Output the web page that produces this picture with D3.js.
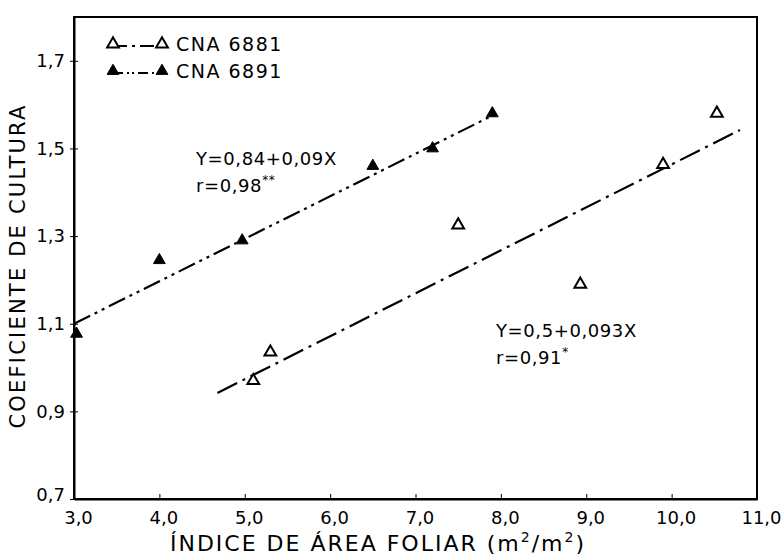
<!DOCTYPE html>
<html><head><meta charset="utf-8">
<script src="https://cdn.jsdelivr.net/npm/d3@7"></script>
<style>body{margin:0;background:#fff}svg{display:block}text{font-family:"DejaVu Sans","Liberation Sans",sans-serif;fill:#000}</style>
</head><body>
<script>
const xTicks = [3,4,5,6,7,8,9,10,11];
const yTicks = [0.7,0.9,1.1,1.3,1.5,1.7];
const seriesNames = ["CNA 6881","CNA 6891"];
const cna6881X = [5.1,5.3,7.5,8.93,9.9,10.53];
const cna6881Y = [0.97,1.035,1.325,1.19,1.463,1.58];
const cna6891X = [3.03,4.0,4.97,6.5,7.2,7.9];
const cna6891Y = [1.077,1.245,1.29,1.46,1.50,1.58];
const fit6881 = [[4.68,0.942],[10.8,1.542]];
const fit6891 = [[3.0,1.10],[7.9,1.575]];
const eq6881 = ["Y=0,5+0,093X","r=0,91"]; const sig6881="*";
const eq6891 = ["Y=0,84+0,09X","r=0,98"]; const sig6891="**";

const W=783,H=557;
const svg=d3.select("body").append("svg").attr("width",W).attr("height",H);
const x=d3.scaleLinear().domain([3,11]).range([74,757]);
const y=d3.scaleLinear().domain([0.7,1.8]).range([499,17]);
const fmt=v=>d3.format(".1f")(v).replace(".",",");

svg.append("rect").attr("x",x(3)).attr("y",y(1.8)).attr("width",x(11)-x(3)).attr("height",y(0.7)-y(1.8))
  .attr("fill","none").attr("stroke","#000").attr("stroke-width",2);

const xa=svg.append("g").attr("transform",`translate(0,${y(0.7)})`)
  .call(d3.axisBottom(x).tickValues(xTicks).tickFormat(fmt).tickSizeInner(-5).tickSizeOuter(0).tickPadding(12));
xa.select(".domain").attr("stroke-width",2);
xa.selectAll("text").attr("font-size",18).attr("dx",4);
const ya=svg.append("g").attr("transform",`translate(${x(3)},0)`)
  .call(d3.axisLeft(y).tickValues(yTicks).tickFormat(fmt).tickSizeInner(-5).tickSizeOuter(0).tickPadding(9));
ya.select(".domain").attr("stroke-width",2);
ya.selectAll("text").attr("font-size",18);
ya.selectAll(".tick line").attr("x1",-4).attr("x2",4);
ya.selectAll(".tick").filter(d=>d===0.7).select("text").attr("dy","0.1em");

svg.append("text").attr("transform",`translate(25,${(y(0.7)+y(1.8))/2+8}) rotate(-90)`)
  .attr("text-anchor","middle").attr("font-size",21).attr("letter-spacing",2.2).text("COEFICIENTE DE CULTURA");
const xt=svg.append("text").attr("x",378).attr("y",551).attr("text-anchor","middle").attr("font-size",22).attr("letter-spacing",2);
xt.append("tspan").text("ÍNDICE  DE  ÁREA  FOLIAR (m");
xt.append("tspan").attr("font-size",14).attr("dy",-9).text("2");
xt.append("tspan").attr("dy",9).text("/m");
xt.append("tspan").attr("font-size",14).attr("dy",-9).text("2");
xt.append("tspan").attr("dy",9).text(")");

const line=d3.line().x(d=>x(d[0])).y(d=>y(d[1]));
const dash1="22,6,3,6", dash2="18,5,3,5,3,5";
svg.append("path").attr("d",line(fit6881)).attr("fill","none").attr("stroke","#000").attr("stroke-width",2.2).attr("stroke-dasharray",dash1);
svg.append("path").attr("d",line(fit6891)).attr("fill","none").attr("stroke","#000").attr("stroke-width",2.2).attr("stroke-dasharray",dash2);

const tri=d3.symbol().type(d3.symbolTriangle).size(60);
svg.append("g").selectAll("path").data(d3.zip(cna6881X,cna6881Y)).join("path")
  .attr("d",tri).attr("transform",d=>`translate(${x(d[0])},${y(d[1])})`)
  .attr("fill","#fff").attr("stroke","#000").attr("stroke-width",2);
svg.append("g").selectAll("path").data(d3.zip(cna6891X,cna6891Y)).join("path")
  .attr("d",tri).attr("transform",d=>`translate(${x(d[0])},${y(d[1])})`)
  .attr("fill","#000").attr("stroke","#000").attr("stroke-width",1);

const leg=[{name:seriesNames[0],fill:"#fff",dash:"14,5,3,5",yy:44},{name:seriesNames[1],fill:"#000",dash:"10,4,2,3,2,4",yy:71}];
leg.forEach(l=>{
  svg.append("line").attr("x1",113).attr("x2",162).attr("y1",l.yy+2).attr("y2",l.yy+2).attr("stroke","#000").attr("stroke-width",2).attr("stroke-dasharray",l.dash);
  [113,162].forEach(px=>svg.append("path").attr("d",tri).attr("transform",`translate(${px},${l.yy})`).attr("fill",l.fill).attr("stroke","#000").attr("stroke-width",l.fill==="#fff"?2:1));
  svg.append("text").attr("x",176).attr("y",l.yy+7).attr("font-size",19).attr("letter-spacing",1.5).text(l.name);
});

function ann(xx,yy,eq,sig){
  svg.append("text").attr("x",xx).attr("y",yy).attr("font-size",18).attr("letter-spacing",0.6).text(eq[0]);
  const t=svg.append("text").attr("x",xx).attr("y",yy+27).attr("font-size",18).attr("letter-spacing",0.6);
  t.append("tspan").text(eq[1]);
  t.append("tspan").attr("font-size",12).attr("dy",-8).text(sig);
}
ann(196,165,eq6891,sig6891);
ann(496,337,eq6881,sig6881);
</script>
</body></html>
